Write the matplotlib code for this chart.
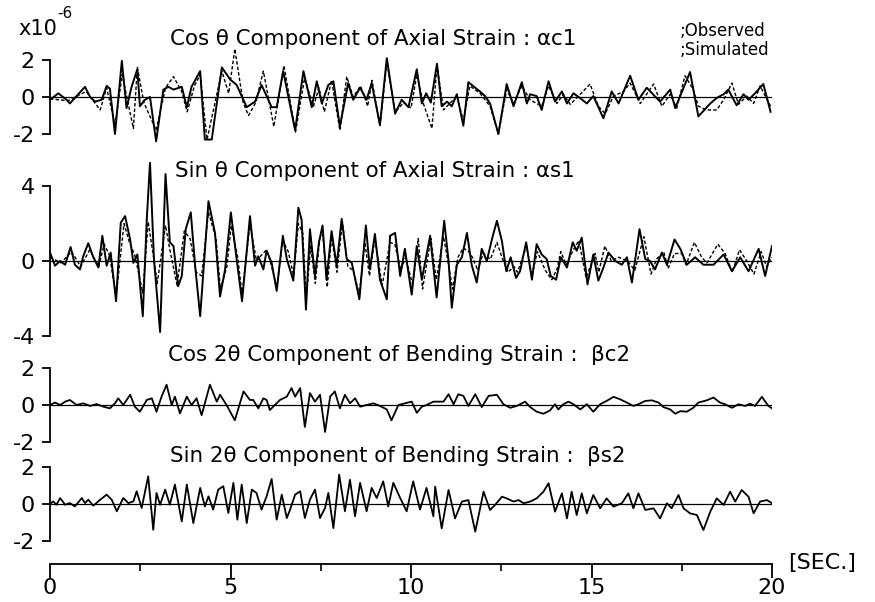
import matplotlib

matplotlib.use("Agg")
import matplotlib.pyplot as plt

plt.rcParams["font.family"] = ["DejaVu Sans"]
plt.rcParams["axes.unicode_minus"] = False

# time [s] and strain [x1e-6] (peaks and troughs)
t_ac1_obs = [0.00, 0.23, 0.46, 0.55, 0.69, 0.97, 1.11, 1.25, 1.43, 1.57, 1.66, 1.80, 1.99, 2.12, 2.26,
             2.42, 2.49, 2.63, 2.77, 2.94, 3.14, 3.28, 3.42, 3.65, 3.79, 3.92, 4.16, 4.29, 4.48, 4.76,
             4.99, 5.17, 5.45, 5.68, 5.86, 6.14, 6.28, 6.46, 6.79, 7.02, 7.25, 7.39, 7.53, 7.71, 7.85,
             8.03, 8.26, 8.40, 8.59, 8.77, 8.91, 9.14, 9.33, 9.56, 9.74, 9.93, 10.16, 10.30, 10.42,
             10.55, 10.72, 10.85, 11.00, 11.13, 11.27, 11.45, 11.59, 11.78, 11.91, 12.05, 12.19, 12.42,
             12.65, 12.84, 13.07, 13.21, 13.30, 13.48, 13.62, 13.81, 13.99, 14.18, 14.32, 14.50, 14.68,
             14.87, 15.05, 15.33, 15.56, 15.75, 16.07, 16.30, 16.53, 16.90, 17.18, 17.32, 17.73, 17.96,
             18.29, 18.47, 18.66, 18.79, 19.02, 19.21, 19.35, 19.53, 19.76, 19.96]
ac1_obs = [-0.15, 0.20, -0.15, -0.35, -0.05, 0.55, 0.00, -0.25, -0.15, 0.60, 0.45, -2.00, 1.95, -0.60, 0.55,
           1.50, -0.50, -0.15, 0.00, -2.40, 0.40, 0.55, 0.40, 0.55, -0.55, 0.55, 1.40, -2.30, -2.30, 1.60,
           0.95, 0.65, -0.55, -0.25, 0.65, -0.55, -0.55, 1.40, -1.80, 1.40, -0.55, 0.85, -0.35, 0.65, 0.85,
           -1.60, 0.75, -0.15, 0.50, -0.15, 0.75, -1.50, 2.10, -0.90, -0.15, -0.55, 1.50, -0.35, 0.20,
           -0.30, 1.80, -0.50, -0.25, -0.50, 0.15, -1.55, 0.80, 0.50, 0.30, 0.05, -0.35, -2.00,
           0.70, -0.50, 0.80, -0.35, 0.15, 0.05, -0.70, 0.85, -0.25, 0.30, -0.35, 0.20, -0.05,
           -0.35, 0.05, -1.15, 0.30, -0.35, 1.15, -0.15, 0.50, -0.25, 0.40, -0.60, 1.35, -1.05,
           -0.35, -0.05, 0.15, 0.40, -0.45, 0.15, -0.15, 0.20, 0.70, -0.80]

t_ac1_sim = [0.00, 0.50, 1.00, 1.39, 1.57, 1.80, 2.00, 2.31, 2.42, 2.60, 2.94, 3.20, 3.42, 3.65, 3.80,
             4.00, 4.16, 4.35, 4.55, 4.76, 4.95, 5.12, 5.35, 5.50, 5.70, 5.91, 6.20, 6.48, 6.80, 7.05,
             7.30, 7.45, 7.60, 7.80, 8.03, 8.22, 8.40, 8.60, 8.80, 8.92, 9.14, 9.33, 9.56, 9.80, 10.00,
             10.16, 10.35, 10.58, 10.72, 10.90, 11.27, 11.45, 11.63, 11.91, 12.19, 12.42, 12.65, 12.84,
             13.07, 13.30, 13.62, 13.81, 14.04, 14.22, 14.41, 14.59, 14.96, 15.19, 15.38, 15.61, 15.89,
             16.07, 16.35, 16.72, 16.95, 17.18, 17.36, 17.59, 17.82, 17.96, 18.19, 18.47, 18.66, 18.89,
             19.07, 19.30, 19.49, 19.67, 19.96]
ac1_sim = [-0.10, -0.20, 0.30, -0.70, 0.50, -1.50, 1.20, -1.70, 1.60, -0.30, -1.80, 0.50, 1.10, 0.30, -0.80,
           0.60, 1.20, -2.30, -0.50, 1.40, 0.20, 2.60, -0.30, -1.00, -0.30, 1.40, -1.60, 1.70, -1.90, 1.00,
           -0.50, 0.50, -0.80, 0.90, -1.80, 1.10, 0.00, 0.60, -0.50, 0.90, -1.60, 1.90, -0.80, -0.30, -0.60,
           1.20, -0.40, -1.70, 1.70, -0.70, 0.05, -1.30, 0.60, 0.20, -0.50, -2.00, 0.40, -0.35,
           0.60, -0.15, -0.50, 0.60, -0.35, 0.15, -0.40, -0.05, 0.70, -0.50, -0.90, 0.05, 0.30,
           0.75, -0.35, 0.70, -0.50, 0.15, -0.60, 1.15, 0.40, -0.50, -0.70, -0.70, -0.15, 0.75,
           -0.40, 0.05, -0.35, 0.60, -0.50]

t_as1_obs = [0.00, 0.14, 0.28, 0.42, 0.57, 0.69, 0.83, 0.92, 1.06, 1.20, 1.34, 1.45, 1.57, 1.68, 1.83,
             1.96, 2.08, 2.22, 2.31, 2.42, 2.57, 2.68, 2.77, 2.88, 3.05, 3.20, 3.32, 3.42, 3.55, 3.65,
             3.76, 3.90, 4.02, 4.16, 4.39, 4.57, 4.71, 4.85, 5.01, 5.17, 5.32, 5.54, 5.68, 5.77, 5.91,
             6.00, 6.14, 6.28, 6.45, 6.56, 6.74, 6.88, 6.97, 7.09, 7.20, 7.34, 7.45, 7.55, 7.66, 7.80,
             7.94, 8.08, 8.22, 8.36, 8.57, 8.75, 8.86, 9.00, 9.14, 9.33, 9.42, 9.56, 9.70, 9.83, 10.02,
             10.16, 10.30, 10.53, 10.71, 10.92, 11.04, 11.13, 11.27, 11.41, 11.55, 11.68, 11.82, 11.96,
             12.10, 12.24, 12.38, 12.52, 12.64, 12.76, 12.91, 13.02, 13.19, 13.35, 13.48, 13.62, 13.76,
             13.87, 14.02, 14.15, 14.32, 14.48, 14.59, 14.73, 14.89, 15.05, 15.19, 15.33, 15.47, 15.66,
             15.84, 15.98, 16.12, 16.33, 16.49, 16.62, 16.76, 16.95, 17.09, 17.30, 17.46, 17.64, 17.87,
             18.10, 18.38, 18.66, 18.89, 19.12, 19.35, 19.63, 19.81, 20.00]
as1_obs = [0.45, -0.25, 0.00, -0.20, 0.75, -0.20, -0.45, 0.25, 0.95, 0.20, -0.35, 1.35, -0.25, 0.45, -2.15,
           2.05, 2.40, 1.15, -0.10, 0.35, -2.95, 2.20, 5.25, 0.10, -3.80, 4.65, 1.00, 0.80, -1.35, -0.80,
           1.70, 2.60, -0.25, -2.95, 3.20, 1.50, -1.90, -0.45, 2.60, 0.10, -2.15, 2.40, -0.25, 0.25, -0.45,
           0.55, -0.10, -1.60, 1.35, 0.10, -1.05, 2.85, 2.20, -2.60, 1.70, -0.80, 1.00, 1.90, -1.00, 1.60,
           -0.25, 2.25, 0.10, -0.10, -2.05, 1.90, -0.45, 1.45, -1.00, -2.05, 1.35, 1.50, -0.80, 0.65, -1.80,
           0.80, -1.00, 1.35, -1.95, 2.15, 0.00, -2.50, -0.20, 0.20, 1.50, -0.20, -1.15, 0.65,
           0.00, 1.15, 2.15, 1.05, -0.55, 0.20, -0.90, -0.55, 1.00, -1.00, 0.90, 0.35, 0.10,
           -0.80, -1.00, 0.20, -0.35, 1.00, 0.55, 1.25, -1.25, 0.35, -1.05, -0.35, 0.45, 0.00,
           -0.20, 0.20, -1.15, 1.70, 0.10, 0.00, -0.45, 0.45, -0.20, 1.15, 0.65, -0.20, 0.20,
           -0.20, -0.20, 0.35, -0.55, 0.20, -0.55, 0.65, -0.80, 0.80]

t_as1_sim = [0.00, 0.30, 0.60, 0.85, 1.10, 1.35, 1.50, 1.65, 1.83, 2.05, 2.20, 2.35, 2.57, 2.72, 2.90,
             2.97, 3.20, 3.32, 3.52, 3.72, 3.88, 4.05, 4.20, 4.39, 4.60, 4.72, 4.90, 5.02, 5.20, 5.32,
             5.54, 5.72, 5.85, 6.00, 6.10, 6.28, 6.45, 6.60, 6.75, 6.88, 7.00, 7.10, 7.22, 7.35, 7.47,
             7.56, 7.68, 7.80, 7.95, 8.10, 8.25, 8.40, 8.57, 8.72, 8.85, 9.00, 9.20, 9.42, 9.55, 9.72,
             9.85, 10.05, 10.20, 10.32, 10.55, 10.70, 10.90, 11.05, 11.15, 11.30, 11.45, 11.60, 11.70,
             11.85, 12.00, 12.20, 12.38, 12.52, 12.68, 12.85, 12.95, 13.20, 13.35, 13.50, 13.72, 13.90,
             14.05, 14.15, 14.30, 14.50, 14.65, 14.85, 15.10, 15.20, 15.37, 15.55, 15.75, 16.00, 16.20,
             16.45, 16.65, 16.80, 17.00, 17.12, 17.30, 17.50, 17.62, 17.85, 18.05, 18.20, 18.50, 18.70,
             18.90, 19.10, 19.30, 19.50, 19.70, 19.85, 20.00]
as1_sim = [0.20, -0.10, 0.50, -0.30, 0.60, -0.30, 0.90, 0.30, -1.90, 2.00, 1.00, 0.30, -1.70, 2.10, -0.20,
           -1.20, 1.90, 0.60, -1.30, 1.60, 1.20, -0.60, -0.80, 2.60, 1.20, -1.50, -0.30, 1.90, 0.20, -1.80,
           2.00, 0.00, 0.30, 0.60, 0.00, -1.40, 1.10, 0.50, -0.80, 2.00, 1.50, -2.00, 0.80, -1.20, 1.20,
           1.40, -1.40, 1.30, -0.60, 2.10, -0.30, -0.50, -1.80, 1.00, -0.80, 1.20, -1.30, 1.00, 0.90, -0.50,
           0.20, -1.30, 1.20, -1.50, 1.20, -1.00, 1.30, -0.30, -1.50, 0.20, 0.70, 0.50, 0.20,
           -0.50, 0.40, 0.10, 1.00, 0.20, -0.60, -0.30, -0.60, 0.80, -0.80, 0.50, -0.50, -1.00,
           -0.40, 0.50, -0.20, 0.60, 1.10, -0.90, 0.40, -0.60, 0.80, 0.00, 0.20, 0.00, -0.50,
           1.30, -0.70, 0.10, 0.50, -0.40, 0.40, 0.40, -0.20, 1.00, 0.20, -0.10, 0.90, 0.40,
           -0.60, 0.60, 0.00, -0.70, 0.50, -0.30, 0.20]

t_bc2 = [0.00, 0.14, 0.28, 0.42, 0.55, 0.74, 0.92, 1.11, 1.29, 1.48, 1.66, 1.80, 1.89, 2.03, 2.22, 2.35,
         2.49, 2.68, 2.82, 2.95, 3.09, 3.23, 3.37, 3.46, 3.60, 3.79, 3.92, 4.06, 4.20, 4.43, 4.62, 4.71,
         4.89, 5.12, 5.36, 5.54, 5.63, 5.77, 5.91, 6.00, 6.09, 6.23, 6.37, 6.56, 6.69, 6.79, 6.93, 7.06,
         7.20, 7.34, 7.48, 7.62, 7.76, 7.89, 8.03, 8.17, 8.31, 8.45, 8.59, 8.77, 8.96, 9.14, 9.33, 9.46,
         9.65, 9.83, 10.02, 10.16, 10.30, 10.43, 10.62, 10.90, 11.04, 11.18, 11.31, 11.45, 11.59, 11.78,
         11.96, 12.15, 12.38, 12.56, 12.75, 12.93, 13.16, 13.30, 13.48, 13.67, 13.85, 13.99, 14.08,
         14.22, 14.36, 14.50, 14.69, 14.87, 15.05, 15.24, 15.42, 15.61, 15.79, 15.98, 16.16, 16.30,
         16.49, 16.67, 16.86, 16.99, 17.18, 17.32, 17.46, 17.64, 17.82, 17.96, 18.19, 18.38, 18.56,
         18.70, 18.89, 19.07, 19.26, 19.39, 19.53, 19.72, 19.90, 20.00]
bc2 = [0.00, 0.13, 0.00, 0.18, 0.27, 0.00, 0.09, -0.05, 0.05, -0.09, -0.18, 0.09, 0.36, 0.00, 0.55, -0.09,
       -0.36, 0.27, 0.36, -0.36, 0.45, 1.09, 0.00, 0.45, -0.45, 0.45, 0.00, 0.36, -0.55, 1.09, 0.18, 0.55,
       0.00, -0.82, 0.73, 0.27, 0.27, -0.18, 0.36, 0.27, -0.27, 0.00, 0.27, 0.45, 0.91, 0.45, 0.91, -1.18,
       0.64, 0.18, 0.55, -1.45, 0.45, 0.73, -0.18, 0.55, 0.09, 0.36, -0.09, 0.00, 0.09, -0.05, -0.24, -0.82,
       0.00, 0.09, 0.18, -0.42, -0.09, 0.00, 0.18, 0.18, 0.58, 0.04, 0.58, 0.49, -0.05, 0.58,
       -0.11, 0.49, 0.55, 0.04, -0.15, -0.05, 0.18, -0.11, -0.36, -0.47, -0.29, 0.04, -0.24,
       0.04, 0.18, 0.04, -0.24, 0.04, -0.36, 0.04, 0.22, 0.44, 0.31, 0.13, -0.05, 0.04,
       0.22, 0.25, 0.13, -0.11, -0.24, -0.47, -0.33, -0.36, -0.15, 0.13, 0.25, 0.40, 0.13,
       0.04, -0.15, 0.04, -0.05, 0.07, -0.05, 0.44, -0.05, -0.18]

t_bs2 = [0.00, 0.09, 0.18, 0.28, 0.42, 0.55, 0.69, 0.88, 0.97, 1.06, 1.20, 1.39, 1.57, 1.71, 1.85, 2.03,
         2.17, 2.31, 2.40, 2.54, 2.72, 2.86, 2.95, 3.05, 3.19, 3.32, 3.46, 3.65, 3.79, 3.97, 4.16, 4.29,
         4.39, 4.52, 4.66, 4.80, 4.94, 5.08, 5.19, 5.31, 5.45, 5.59, 5.72, 5.86, 6.00, 6.14, 6.28, 6.42,
         6.56, 6.65, 6.79, 6.93, 7.06, 7.20, 7.34, 7.48, 7.62, 7.71, 7.85, 8.01, 8.17, 8.31, 8.45, 8.59,
         8.77, 8.91, 9.05, 9.23, 9.37, 9.51, 9.70, 9.88, 10.06, 10.25, 10.43, 10.62, 10.67, 10.85, 11.04,
         11.22, 11.41, 11.59, 11.78, 12.01, 12.19, 12.33, 12.52, 12.65, 12.84, 12.98, 13.12, 13.30,
         13.48, 13.67, 13.81, 13.99, 14.18, 14.32, 14.45, 14.59, 14.73, 14.87, 15.05, 15.24, 15.42,
         15.61, 15.84, 16.02, 16.16, 16.30, 16.49, 16.72, 16.90, 17.09, 17.22, 17.41, 17.55, 17.73,
         17.92, 18.10, 18.29, 18.47, 18.66, 18.84, 18.98, 19.16, 19.35, 19.49, 19.67, 19.86, 20.00]
bs2 = [0.00, 0.14, -0.04, 0.32, -0.04, 0.05, -0.13, 0.32, 0.05, 0.23, -0.09, 0.23, 0.50, 0.23, -0.39, 0.32,
       0.05, 0.14, 0.68, -0.21, 1.48, -1.38, 0.59, -0.04, 0.77, -0.04, 1.04, -0.93, 1.04, -1.02, 0.86, -0.13,
       0.41, -0.30, 0.77, 0.95, -0.48, 1.13, -0.84, 1.04, -1.02, 0.77, 0.59, -0.30, 0.41, 1.34, -0.84, 0.50,
       -0.75, -0.30, 0.50, 0.68, -0.75, 0.23, 0.77, -0.75, -0.21, 0.59, -1.29, 1.57, -0.39, 1.30, -0.66, 1.13,
       -0.39, 0.86, 0.32, 1.21, -0.13, 1.13, 0.32, -0.39, 1.21, -0.30, 0.86, -0.66, 0.93, -1.30, 0.75,
       -0.77, 0.13, 0.21, -1.48, 0.66, -0.32, -0.05, 0.39, 0.30, 0.13, 0.21, 0.04, 0.13,
       0.30, 0.66, 1.11, -0.41, 0.57, -0.77, 0.66, -0.59, 0.57, -0.50, 0.48, -0.23, 0.30,
       -0.14, 0.04, 0.57, -0.23, 0.57, -0.32, -0.23, -0.77, 0.04, -0.23, 0.48, -0.23, -0.50,
       -0.59, -1.39, -0.41, 0.30, -0.05, 0.66, 0.13, 0.75, 0.39, -0.50, 0.13, 0.21, 0.04]

titles = ["Cos θ Component of Axial Strain : αc1",
          "Sin θ Component of Axial Strain : αs1",
          "Cos 2θ Component of Bending Strain :  βc2",
          "Sin 2θ Component of Bending Strain :  βs2"]
x_ticks = [0, 5, 10, 15, 20]
x_minor = [2.5, 7.5, 12.5, 17.5]

W, H = 875, 602
X0, X1 = 50, 772


def fpos(x, y):
    return x / W, 1 - y / H


def strain_axes(fig, zero_px, ppu, ylim, ticks):
    lo, hi = ylim
    bottom = 1 - (zero_px - lo * ppu) / H
    ax = fig.add_axes([X0 / W, bottom, (X1 - X0) / W, (hi - lo) * ppu / H])
    ax.set_xlim(0, 20)
    ax.set_ylim(lo, hi)
    ax.patch.set_visible(False)
    for side in ("top", "right", "bottom"):
        ax.spines[side].set_visible(False)
    ax.spines["left"].set_bounds(ticks[0], ticks[-1])
    ax.spines["left"].set_linewidth(1.3)
    ax.set_xticks([])
    ax.set_yticks(ticks, labels=[str(v) for v in ticks])
    ax.tick_params(axis="y", direction="out", length=6, width=1.3, labelsize=16, pad=5)
    ax.plot([0, 20], [0, 0], color="black", lw=0.9)
    return ax


fig = plt.figure(figsize=(W / 100, H / 100), dpi=100)

ax1 = strain_axes(fig, 97, 18.5, (-2.6, 2.8), [-2, 0, 2])
ax1.plot(t_ac1_sim, ac1_sim, color="black", lw=1.0, ls=(0, (2.5, 1.5)))
ax1.plot(t_ac1_obs, ac1_obs, color="black", lw=1.4)

ax2 = strain_axes(fig, 261, 18.7, (-4.2, 5.5), [-4, 0, 4])
ax2.plot(t_as1_sim, as1_sim, color="black", lw=1.0, ls=(0, (2.5, 1.5)))
ax2.plot(t_as1_obs, as1_obs, color="black", lw=1.4)

ax3 = strain_axes(fig, 405, 18.6, (-2.05, 2.05), [-2, 0, 2])
ax3.plot(t_bc2, bc2, color="black", lw=1.3)

ax4 = strain_axes(fig, 504, 18.7, (-2.05, 2.05), [-2, 0, 2])
ax4.plot(t_bs2, bs2, color="black", lw=1.3)

# time axis drawn on its own below the four traces
axt = fig.add_axes([X0 / W, 1 - 564 / H, (X1 - X0) / W, 0.001])
axt.set_xlim(0, 20)
axt.patch.set_visible(False)
for side in ("top", "right", "left"):
    axt.spines[side].set_visible(False)
axt.spines["bottom"].set_linewidth(1.3)
axt.set_yticks([])
axt.set_xticks(x_ticks, labels=[str(v) for v in x_ticks])
axt.set_xticks(x_minor, minor=True)
axt.tick_params(axis="x", which="major", direction="out", length=10, width=1.3, labelsize=16, pad=0)
axt.tick_params(axis="x", which="minor", direction="out", length=5, width=1.2)

title_px = [(170, 39), (175, 171), (168, 355), (170, 456)]
for (x, y), txt in zip(title_px, titles):
    fig.text(*fpos(x, y), txt, fontsize=15.4, ha="left", va="center")

fig.text(*fpos(18, 29), "x10", fontsize=15, ha="left", va="center")
fig.text(*fpos(57, 14), "-6", fontsize=11, ha="left", va="center")
fig.text(*fpos(680, 31), ";Observed", fontsize=12, ha="left", va="center")
fig.text(*fpos(680, 50), ";Simulated", fontsize=12, ha="left", va="center")
fig.text(*fpos(788, 563), "[SEC.]", fontsize=16, ha="left", va="center")

fig.savefig("out.png", dpi=100)
